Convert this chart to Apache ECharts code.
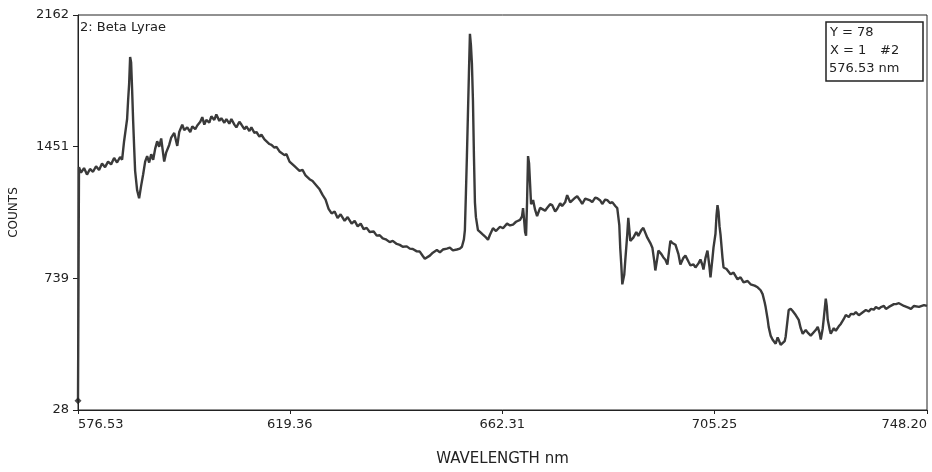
<!DOCTYPE html>
<html>
<head>
<meta charset="utf-8">
<script src="https://cdn.jsdelivr.net/npm/echarts@6/dist/echarts.min.js"></script>
<style>
html,body{margin:0;padding:0;background:#fff;}
#chart{width:932px;height:472px;}
</style>
</head>
<body>
<div id="chart"></div>
<script>
const wavelengths = [
576.53,576.73,577.14,577.75,578.35,578.96,579.57,580.18,580.79,581.39,
582.00,582.61,583.22,583.83,584.43,585.04,585.45,585.85,586.26,586.46,
586.66,586.87,587.07,587.27,587.47,587.68,587.88,588.08,588.49,588.89,
589.30,589.70,590.11,590.51,590.92,591.33,591.73,592.14,592.54,592.95,
593.35,593.76,593.96,594.37,594.97,595.38,595.99,596.60,597.00,597.61,
598.01,598.62,599.23,599.64,600.24,600.65,601.26,601.66,602.07,602.47,
603.08,603.49,604.09,604.50,605.11,605.51,606.12,606.53,607.13,607.54,
608.15,608.55,609.16,609.57,610.17,610.58,611.19,611.59,612.20,612.61,
613.21,613.62,614.23,614.63,615.24,615.65,616.25,616.66,617.27,617.67,
618.28,618.69,619.30,619.70,620.31,620.71,621.32,621.93,622.54,623.35,
623.96,624.77,625.38,625.98,626.59,627.20,627.81,628.42,629.02,629.63,
630.44,631.05,631.86,632.47,633.08,633.69,634.29,634.90,635.51,636.32,
636.93,637.54,638.15,638.75,639.56,640.17,640.98,641.59,642.20,643.01,
643.62,644.23,645.04,645.64,646.25,646.66,647.06,647.67,648.28,649.09,
649.70,650.31,651.12,651.72,652.33,653.14,653.75,654.16,654.56,654.76,
654.97,655.17,655.37,655.58,655.78,655.98,656.18,656.39,656.59,656.79,
656.99,657.40,657.81,658.41,659.02,659.43,659.83,660.44,661.05,661.86,
662.47,663.28,663.89,664.49,665.10,665.91,666.32,666.52,666.72,666.93,
667.13,667.33,667.53,667.74,667.94,668.14,668.55,668.95,669.36,669.97,
670.37,670.98,671.38,671.99,672.40,673.01,673.41,674.02,674.42,675.03,
675.44,676.05,676.45,677.06,677.47,678.07,678.48,679.09,679.49,680.10,
680.51,681.11,681.52,682.13,682.53,683.14,683.55,684.15,684.56,685.17,
685.57,685.98,686.18,686.38,686.59,686.99,687.19,687.60,687.80,688.21,
688.82,689.42,689.83,690.44,690.84,691.25,691.65,692.26,692.67,693.07,
693.27,693.68,693.88,694.49,694.90,695.30,695.71,696.11,696.31,696.72,
697.33,697.94,698.34,698.95,699.35,699.96,700.37,700.98,701.38,701.99,
702.39,702.80,703.00,703.41,703.81,704.22,704.42,704.83,705.03,705.43,
705.64,705.84,706.04,706.25,706.45,706.85,707.06,707.66,708.48,709.08,
709.89,710.50,711.11,711.92,712.53,713.34,713.95,714.56,714.96,715.37,
715.57,715.97,716.18,716.58,716.99,717.60,718.00,718.20,718.61,719.01,
719.42,719.62,720.03,720.23,720.64,721.04,721.65,722.26,722.66,723.07,
723.68,724.08,724.69,725.09,725.70,726.11,726.51,726.72,727.12,727.32,
727.73,727.93,728.13,728.54,728.74,729.35,729.76,730.36,730.77,731.38,
731.78,732.39,732.80,733.40,733.81,734.42,734.82,735.43,735.84,736.44,
736.85,737.46,737.86,738.47,738.88,739.49,739.89,740.50,740.90,741.51,
741.92,742.53,742.93,743.54,743.94,744.55,744.96,745.57,745.97,746.58,
746.98,747.59,748.20
];
const counts = [
78,1340,1310,1335,1300,1330,1315,1345,1325,1360,
1340,1370,1355,1390,1365,1395,1380,1480,1560,1600,
1700,1790,1935,1905,1760,1590,1450,1320,1215,1172,
1240,1300,1370,1400,1365,1410,1380,1440,1480,1450,
1495,1410,1370,1420,1460,1500,1525,1455,1530,1570,
1540,1555,1530,1560,1545,1565,1585,1610,1570,1595,
1580,1615,1595,1625,1590,1605,1580,1600,1575,1600,
1570,1555,1585,1570,1545,1560,1535,1555,1525,1530,
1505,1515,1490,1480,1465,1460,1445,1450,1425,1430,
1405,1410,1370,1375,1345,1340,1320,1325,1295,1275,
1265,1240,1220,1190,1165,1115,1090,1100,1065,1085,
1050,1070,1035,1050,1020,1035,1005,1012,990,992,
970,972,955,950,935,942,925,920,910,912,
900,898,885,884,860,845,836,862,878,892,
880,895,900,905,890,895,900,910,950,1000,
1200,1400,1620,1850,2060,2000,1900,1700,1400,1150,
1070,1000,990,975,960,948,975,1010,995,1018,
1010,1035,1025,1030,1045,1055,1075,1119,1060,990,
969,1150,1400,1360,1250,1140,1162,1110,1076,1120,
1130,1105,1119,1140,1135,1100,1114,1145,1130,1150,
1189,1150,1141,1175,1183,1160,1141,1170,1172,1160,
1151,1175,1172,1160,1141,1165,1162,1145,1151,1130,
1119,1028,900,814,707,760,836,980,1066,942,
959,990,969,1000,1012,985,959,930,905,830,
782,850,889,870,852,840,814,900,942,930,
921,870,814,850,862,830,809,815,798,820,
841,810,787,850,889,800,745,850,905,980,
1080,1135,1100,1020,975,850,798,790,761,770,
734,745,718,725,707,700,691,675,654,610,
584,520,477,430,408,386,420,408,380,370,
400,424,520,568,575,563,541,515,470,440,
460,446,430,440,460,477,440,408,470,520,
630,590,515,460,440,470,456,480,493,520,
541,530,547,545,557,540,547,560,568,560,
574,570,584,575,584,590,574,585,595,600,
600,605,611,590,600,580,574,590,595,585,
584,595,590
];
const xTickValues = [576.53, 619.36, 662.31, 705.25, 748.20];
const xTickLabels = ['576.53', '619.36', '662.31', '705.25', '748.20'];
const yTickValues = [28, 739.33, 1450.67, 2162];
const yTickLabels = ['28', '739', '1451', '2162'];
const seriesLabel = '2: Beta Lyrae';
const cursorLines = ['Y = 78', 'X = 1', '#2', '576.53 nm'];

const FONT = "'DejaVu Sans', sans-serif";
const INK = '#222';

function labelFor(values, labels) {
  return function (v) {
    for (let i = 0; i < values.length; i++) {
      if (Math.abs(values[i] - v) < 0.02) return labels[i];
    }
    return '';
  };
}

const lineData = wavelengths.map((w, i) => [w, counts[i]]);

const chart = echarts.init(document.getElementById('chart'), null, {renderer: 'canvas'});
chart.setOption({
  backgroundColor: '#fff',
  animation: false,
  grid: {
    left: 78, right: 5, top: 15, bottom: 58,
    show: true, borderColor: INK, borderWidth: 1, backgroundColor: 'transparent'
  },
  xAxis: {
    type: 'value',
    min: xTickValues[0], max: xTickValues[xTickValues.length - 1],
    name: 'WAVELENGTH nm', nameLocation: 'middle', nameGap: 42,
    nameTextStyle: {fontFamily: FONT, fontSize: 15, color: INK},
    axisLine: {show: true, onZero: false, lineStyle: {color: INK, width: 1}},
    axisTick: {show: true, length: 4, inside: false, customValues: xTickValues, lineStyle: {color: INK}},
    axisLabel: {
      show: true, customValues: xTickValues, margin: 8,
      fontFamily: FONT, fontSize: 13, color: INK,
      alignMinLabel: 'left', alignMaxLabel: 'right',
      formatter: labelFor(xTickValues, xTickLabels)
    },
    splitLine: {show: false}
  },
  yAxis: {
    type: 'value',
    min: yTickValues[0], max: yTickValues[yTickValues.length - 1],
    name: 'COUNTS', nameLocation: 'middle', nameGap: 58, nameRotate: 90,
    nameTextStyle: {fontFamily: FONT, fontSize: 12, color: INK},
    axisLine: {show: true, onZero: false, lineStyle: {color: INK, width: 1}},
    axisTick: {show: true, length: 5, inside: false, customValues: yTickValues, lineStyle: {color: INK}},
    axisLabel: {
      show: true, customValues: yTickValues, margin: 9,
      fontFamily: FONT, fontSize: 13, color: INK,
      formatter: labelFor(yTickValues, yTickLabels)
    },
    splitLine: {show: false}
  },
  series: [
    {
      type: 'line',
      data: lineData,
      showSymbol: false,
      symbol: 'none',
      lineStyle: {color: '#3a3a3a', width: 2.4},
      z: 3
    },
    {
      type: 'scatter',
      data: [lineData[0]],
      symbol: 'diamond',
      symbolSize: 7,
      itemStyle: {color: INK},
      z: 4
    }
  ],
  graphic: [
    {type: 'text', left: 80, top: 21, z: 10,
     style: {text: seriesLabel, font: '13px ' + FONT, fill: INK}},
    {type: 'rect', shape: {x: 826, y: 22, width: 97, height: 59}, z: 10,
     style: {fill: '#fff', stroke: INK, lineWidth: 1.5}},
    {type: 'text', x: 830, y: 26, z: 11, style: {text: cursorLines[0], font: '13px ' + FONT, fill: INK}},
    {type: 'text', x: 830, y: 44, z: 11, style: {text: cursorLines[1], font: '13px ' + FONT, fill: INK}},
    {type: 'text', x: 880, y: 44, z: 11, style: {text: cursorLines[2], font: '13px ' + FONT, fill: INK}},
    {type: 'text', x: 829, y: 62, z: 11, style: {text: cursorLines[3], font: '13px ' + FONT, fill: INK}}
  ]
});
</script>
</body>
</html>
